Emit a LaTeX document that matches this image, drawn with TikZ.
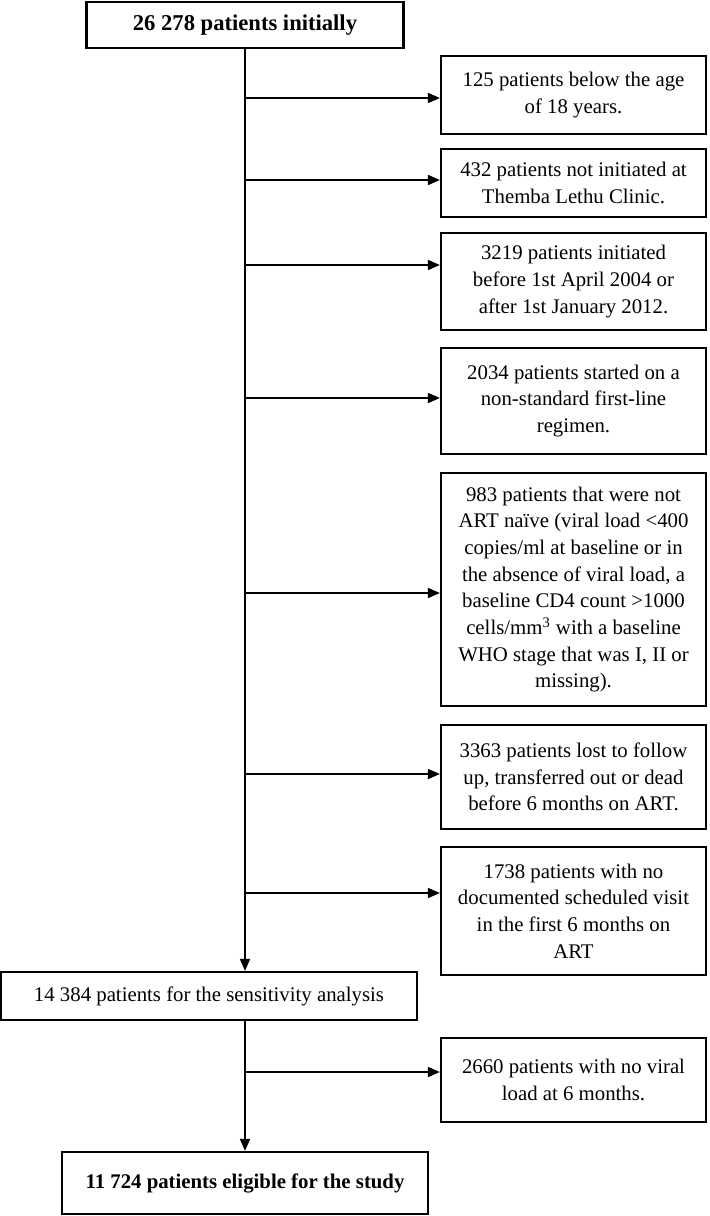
\documentclass[tikz,border=0pt]{standalone}
\usepackage{fontspec}
\setmainfont{Liberation Serif}
\usetikzlibrary{arrows.meta}

\begin{document}
\begin{tikzpicture}[x=0.5pt,y=-0.5pt,
    box/.style={draw,line width=1.1pt,align=center,inner sep=0pt,
                font=\fontsize{10.4}{13.35}\selectfont},
    exclbox/.style={box,minimum width=132.5pt},
    arr/.style={line width=0.85pt,-{Triangle[length=6pt,width=5pt]}}]
  \useasboundingbox (0,0) rectangle (709,1216);

  % main flow
  \node[box,minimum width=158.5pt,minimum height=23pt,
        font=\fontsize{11.3}{13.5}\selectfont\bfseries] (top) at (245,25)
        {26 278 patients initially};
  \node[box,minimum width=208pt,minimum height=24pt] (sens) at (209,996)
        {14 384 patients for the sensitivity analysis};
  \node[box,minimum width=183pt,minimum height=31pt,
        font=\fontsize{10.4}{13.35}\selectfont\bfseries] (final) at (245,1183)
        {11 724 patients eligible for the study};

  % excluded patients
  \node[exclbox,minimum height=39pt] (b1) at (573.5,95)
        {125 patients below the age\\of 18 years.};
  \node[exclbox,minimum height=34pt] (b2) at (573.5,183)
        {432 patients not initiated at\\Themba Lethu Clinic.};
  \node[exclbox,minimum height=48.5pt] (b3) at (573.5,281.5)
        {3219 patients initiated\\before 1st April 2004 or\\after 1st January 2012.};
  \node[exclbox,minimum height=53pt] (b4) at (573.5,401)
        {2034 patients started on a\\non-standard first-line\\regimen.};
  \node[exclbox,minimum height=116.5pt] (b5) at (573.5,589.5)
        {983 patients that were not\\ART naïve (viral load <400\\copies/ml at baseline or in\\the absence of viral load, a\\baseline CD4 count >1000\\cells/mm\textsuperscript{3} with a baseline\\WHO stage that was I, II or\\missing).};
  \node[exclbox,minimum height=52pt] (b6) at (573.5,777)
        {3363 patients lost to follow\\up, transferred out or dead\\before 6 months on ART.};
  \node[exclbox,minimum height=64pt] (b7) at (573.5,911)
        {1738 patients with no\\documented scheduled visit\\in the first 6 months on\\ART};
  \node[exclbox,minimum height=42pt] (b8) at (573.5,1080)
        {2660 patients with no viral\\load at 6 months.};

  % connectors
  \draw[arr] (top.south) -- (top.south |- sens.north);
  \draw[arr] (top.south |- sens.south) -- (top.south |- final.north);

  \foreach \i/\y in {1/98,2/180,3/265,4/398,5/593,6/774,7/893,8/1072}
    \coordinate (j\i) at (245,\y);
  \foreach \i in {1,...,8}
    \draw[arr] (j\i) -- (j\i -| b\i.west);
\end{tikzpicture}
\end{document}
